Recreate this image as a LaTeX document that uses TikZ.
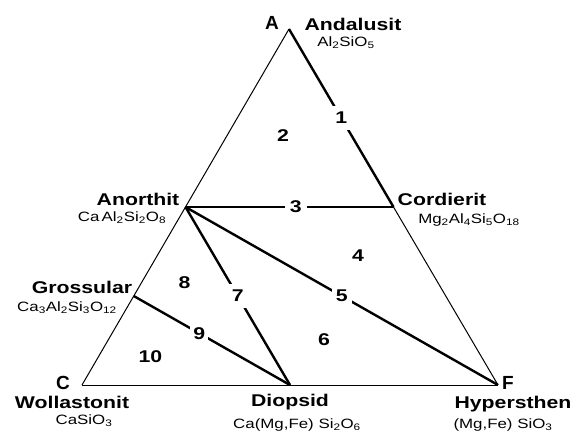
\documentclass[tikz,border=0pt]{standalone}
\usepackage{fontspec}
\setmainfont{Liberation Sans}[FakeStretch=1.25]
\newfontfamily\cornerfont{Liberation Sans}
\usetikzlibrary{positioning}

\begin{document}
\begin{tikzpicture}[x=1pt, y=-1pt,
    edge/.style={line width=1pt},
    tie/.style={line width=2.4pt},
    num/.style={fill=white, inner sep=4pt, font=\fontsize{17}{20}\selectfont\bfseries},
    corner/.style={inner sep=0pt, font=\fontsize{19}{22}\selectfont\cornerfont\bfseries},
    mineral/.style={inner sep=0pt, font=\fontsize{17}{20}\selectfont\bfseries},
    formula/.style={inner sep=0pt, font=\fontsize{13.5}{16}\selectfont}
]
    \useasboundingbox (0,0) rectangle (577,434);

    % corners and mineral points
    \coordinate (A) at (289,29);
    \coordinate (C) at (82,385);
    \coordinate (F) at (498,385);
    \coordinate (anor) at (185.5,207);
    \coordinate (cord) at (393.5,207);
    \coordinate (diop) at (290,385);
    \coordinate (gros) at (133.75,296);

    \draw[edge] (C) -- (A);
    \draw[edge] (C) -- (F);
    \draw[edge] (cord) -- (F);

    % tie lines
    \draw[tie] (A) -- node[num, inner sep=6.5pt] (n1) {1} (cord);
    \draw[tie] (anor) -- node[num, pos=0.53, inner sep=5pt] (n3) {3} (cord);
    \draw[tie] (anor) -- node[num] (n5) {5} (F);
    \draw[tie] (anor) -- node[num, inner sep=6.5pt] (n7) {7} (diop);
    \draw[tie] (gros) -- node[num, pos=0.42, inner sep=3pt] (n9) {9} (diop);

    \node[num] (n2) at (283,136) {2};
    \node[num] (n4) at (358,256) {4};
    \node[num] (n6) at (324,340) {6};
    \node[num] (n8) at (184.5,283) {8};
    \node[num] (n10) at (150.5,357) {10};

    \node[corner] (lA) at (272,23) {A};
    \node[corner] (lC) at (63,383) {C};
    \node[corner] (lF) at (508,383) {F};

    \node[mineral] (andal) at (353,24) {Andalusit};
    \node[formula] (andalf) at (346,43) {Al\textsubscript{2}SiO\textsubscript{5}};
    \node[mineral] (anorth) at (138,199) {Anorthit};
    \node[formula] (anorthf) at (122,218) {Ca\,Al\textsubscript{2}Si\textsubscript{2}O\textsubscript{8}};
    \node[mineral] (cordier) at (442,199) {Cordierit};
    \node[formula] (cordierf) at (469,220) {Mg\textsubscript{2}Al\textsubscript{4}Si\textsubscript{5}O\textsubscript{18}};
    \node[mineral] (gross) at (82,287) {Grossular};
    \node[formula] (grossf) at (67,308) {Ca\textsubscript{3}Al\textsubscript{2}Si\textsubscript{3}O\textsubscript{12}};
    \node[mineral] (woll) at (72,402) {Wollastonit};
    \node[formula] (wollf) at (84,421) {CaSiO\textsubscript{3}};
    \node[mineral] (diopl) at (290,402) {Diopsid};
    \node[formula] (diopf) at (297,425) {Ca(Mg,Fe) Si\textsubscript{2}O\textsubscript{6}};
    \node[mineral] (hyper) at (513,404) {Hypersthen};
    \node[formula] (hyperf) at (503,425) {(Mg,Fe) SiO\textsubscript{3}};
\end{tikzpicture}
\end{document}
